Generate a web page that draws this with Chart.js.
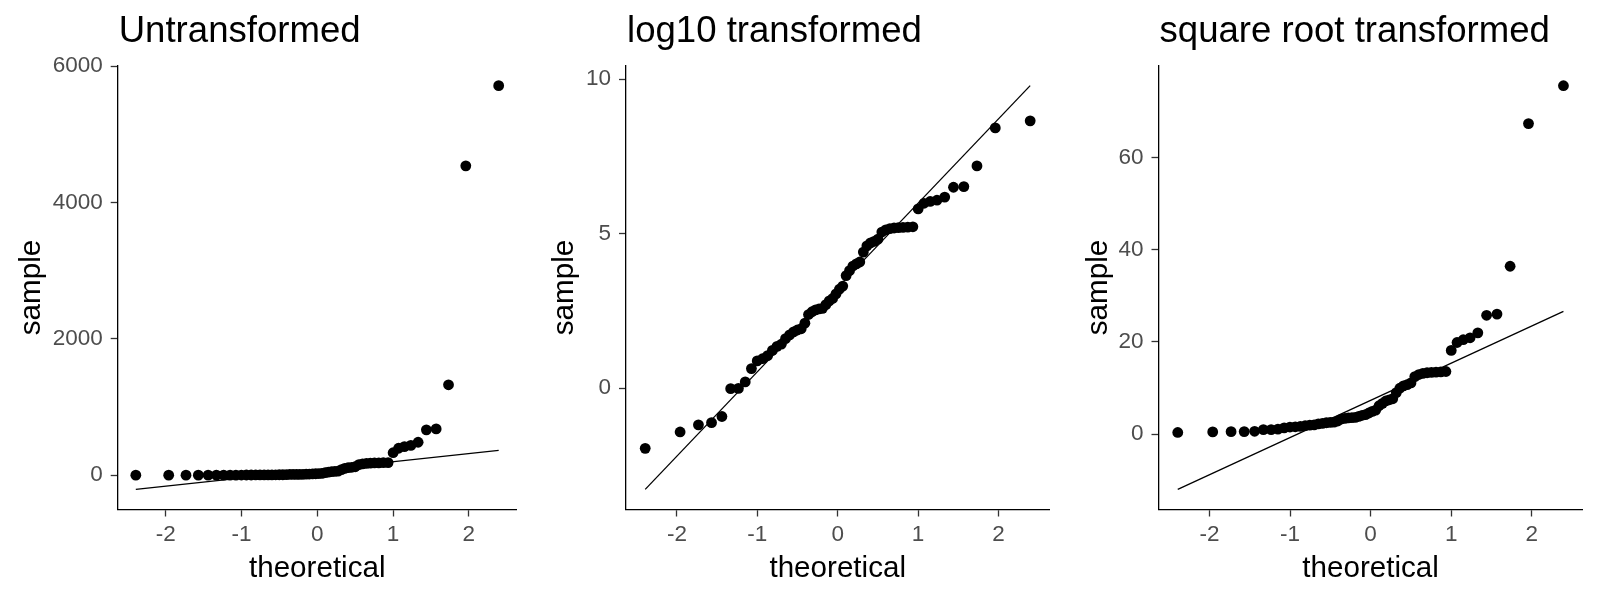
<!DOCTYPE html>
<html lang="en">
<head>
  <meta charset="UTF-8" />
  <title>Normal QQ plots</title>
  <style>
    body {
      margin: 0;
      background: #fff;
    }
    .panel {
      position: absolute;
      top: 0;
      height: 600px;
    }
  </style>
</head>
<body>
  <div class="panel" style="left:0;width:533px"><canvas id="qqRaw"></canvas></div>
  <div class="panel" style="left:533px;width:534px"><canvas id="qqLog"></canvas></div>
  <div class="panel" style="left:1067px;width:533px"><canvas id="qqSqrt"></canvas></div>

  <script src="https://cdn.jsdelivr.net/npm/chart.js"></script>
  <script>
    // theoretical normal quantiles (60 points)
    const theoretical = [-2.394, -1.960, -1.732, -1.569, -1.440, -1.331, -1.235, -1.150, -1.073, -1.001,
      -0.935, -0.872, -0.812, -0.755, -0.701, -0.649, -0.598, -0.549, -0.501, -0.454,
      -0.408, -0.363, -0.319, -0.275, -0.232, -0.189, -0.147, -0.105, -0.063, -0.021,
      0.021, 0.063, 0.105, 0.147, 0.189, 0.232, 0.275, 0.319, 0.363, 0.408,
      0.454, 0.501, 0.549, 0.598, 0.649, 0.701, 0.755, 0.812, 0.872, 0.935,
      1.001, 1.073, 1.150, 1.235, 1.331, 1.440, 1.569, 1.732, 1.960, 2.394];

    const untransformed = [0.14, 0.24, 0.30, 0.33, 0.40, 0.98, 0.99, 1.22, 1.88, 2.41,
      2.59, 2.86, 3.39, 3.86, 4.14, 4.95, 5.59, 6.17, 6.55, 6.82,
      8.17, 10.8, 11.8, 12.6, 12.9, 13.2, 14.9, 16.8, 18.2, 21.1,
      24.5, 27.1, 38.1, 44.7, 51.9, 55.7, 59.2, 81.5, 99.5, 110,
      116, 124, 156, 167, 174, 178, 180, 181, 183, 185,
      330, 395, 420, 437, 483, 665, 679, 1326, 4537, 5712];

    const log10Sample = [-1.95, -1.42, -1.19, -1.12, -0.92, -0.02, -0.01, 0.20, 0.63, 0.88,
      0.95, 1.05, 1.22, 1.35, 1.42, 1.60, 1.72, 1.82, 1.88, 1.92,
      2.10, 2.38, 2.47, 2.53, 2.56, 2.58, 2.70, 2.82, 2.90, 3.05,
      3.20, 3.30, 3.64, 3.80, 3.95, 4.02, 4.08, 4.40, 4.60, 4.70,
      4.75, 4.82, 5.05, 5.12, 5.16, 5.18, 5.19, 5.20, 5.21, 5.22,
      5.80, 5.98, 6.04, 6.08, 6.18, 6.50, 6.52, 7.19, 8.42, 8.65];

    const sqrtSample = [0.38, 0.49, 0.55, 0.57, 0.63, 0.99, 1.00, 1.11, 1.37, 1.55,
      1.61, 1.69, 1.84, 1.96, 2.03, 2.23, 2.36, 2.48, 2.56, 2.61,
      2.86, 3.29, 3.44, 3.54, 3.60, 3.63, 3.86, 4.10, 4.26, 4.60,
      4.95, 5.21, 6.17, 6.69, 7.21, 7.46, 7.69, 9.03, 9.97, 10.49,
      10.75, 11.13, 12.49, 12.94, 13.20, 13.33, 13.40, 13.46, 13.53, 13.60,
      18.17, 19.89, 20.49, 20.91, 21.98, 25.79, 26.05, 36.42, 67.36, 75.58];

    // reference lines (through the quartiles), start and end values
    const lineX = [-2.394, 2.394];
    const lineUntransformed = [-207, 363];
    const lineLog = [-3.28, 9.79];
    const lineSqrt = [-11.95, 26.64];

    const xTicks = [-2, -1, 0, 1, 2];
    const yTicksUntransformed = [0, 2000, 4000, 6000];
    const yTicksLog = [0, 5, 10];
    const yTicksSqrt = [0, 20, 40, 60];

    Chart.defaults.font.family = '"Liberation Sans", Arial, sans-serif';

    const panelTitle = {
      id: 'panelTitle',
      afterDraw(chart, args, opts) {
        const ctx = chart.ctx;
        ctx.save();
        ctx.font = '36.6px "Liberation Sans", Arial, sans-serif';
        ctx.fillStyle = '#000';
        ctx.textAlign = 'left';
        ctx.textBaseline = 'alphabetic';
        ctx.fillText(opts.text, chart.chartArea.left + 1, 42);
        ctx.restore();
      }
    };

    function qqChart(id, title, sample, line, yTicks, yMin, yMax, yWidth, rightPad) {
      const points = theoretical.map((t, i) => ({ x: t, y: sample[i] }));
      const lineData = lineX.map((t, i) => ({ x: t, y: line[i] }));
      return new Chart(document.getElementById(id), {
        type: 'scatter',
        data: {
          datasets: [
            {
              type: 'line',
              data: lineData,
              borderColor: '#000',
              borderWidth: 1.3,
              pointRadius: 0,
              fill: false,
              order: 0
            },
            {
              data: points,
              backgroundColor: '#000',
              borderWidth: 0,
              pointRadius: 5.4,
              order: 1
            }
          ]
        },
        options: {
          responsive: true,
          maintainAspectRatio: false,
          animation: false,
          layout: { padding: { top: 65.5, right: rightPad, bottom: 0, left: 0 } },
          plugins: {
            legend: { display: false },
            tooltip: { enabled: false },
            panelTitle: { text: title }
          },
          scales: {
            x: {
              type: 'linear',
              min: -2.633,
              max: 2.633,
              afterBuildTicks: s => { s.ticks = xTicks.map(v => ({ value: v })); },
              afterFit: s => { s.height = 90.5; },
              grid: { drawOnChartArea: false, tickLength: 7, tickColor: '#333333', tickWidth: 1.3 },
              border: { display: true, color: '#000', width: 1.3 },
              ticks: { color: '#4D4D4D', font: { size: 22.5 }, padding: 5, maxRotation: 0, autoSkip: false, callback: v => String(v) },
              title: { display: true, text: 'theoretical', color: '#000', font: { size: 29.6 }, padding: { top: 0, bottom: 13.4 } }
            },
            y: {
              type: 'linear',
              min: yMin,
              max: yMax,
              afterBuildTicks: s => { s.ticks = yTicks.map(v => ({ value: v })); },
              afterFit: s => { s.width = yWidth; },
              grid: { drawOnChartArea: false, tickLength: 7, tickColor: '#333333', tickWidth: 1.3 },
              border: { display: true, color: '#000', width: 1.3 },
              ticks: { color: '#4D4D4D', font: { size: 22.5 }, padding: 8, autoSkip: false, callback: v => String(v) },
              title: { display: true, text: 'sample', color: '#000', font: { size: 29.6 }, padding: { top: 14, bottom: 0 } }
            }
          }
        },
        plugins: [panelTitle]
      });
    }

    qqChart('qqRaw', 'Untransformed', untransformed, lineUntransformed, yTicksUntransformed, -503, 6008, 117.7, 16.2);
    qqChart('qqLog', 'log10 transformed', log10Sample, lineLog, yTicksLog, -3.93, 10.44, 93, 17.6);
    qqChart('qqSqrt', 'square root transformed', sqrtSample, lineSqrt, yTicksSqrt, -16.33, 79.96, 91.5, 17.3);
  </script>
</body>
</html>
